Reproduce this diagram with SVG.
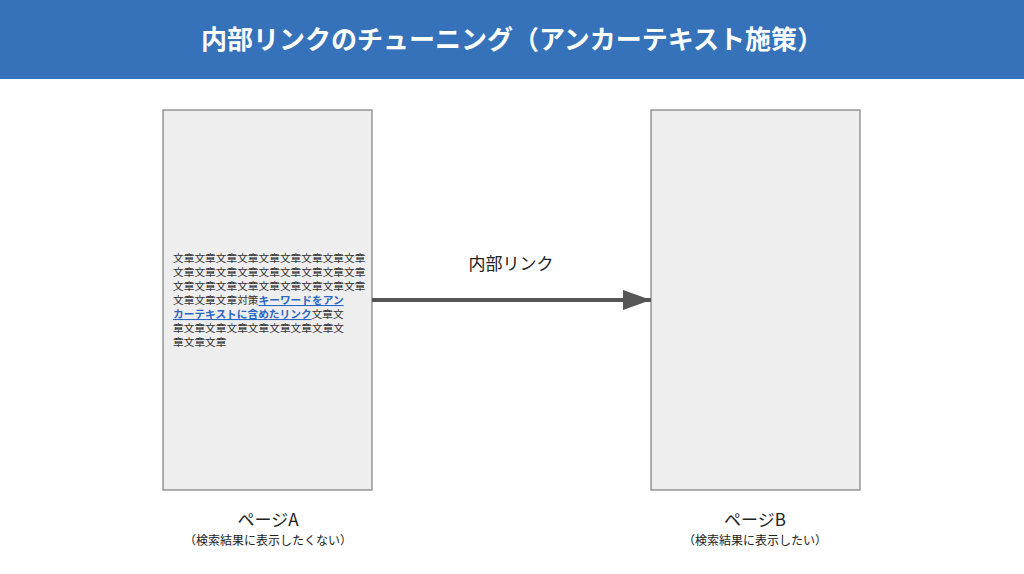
<svg xmlns="http://www.w3.org/2000/svg" width="1024" height="574" viewBox="0 0 1024 574">
<style>
.t{font-family:"Noto Sans CJK JP","Noto Sans",sans-serif}
.body{font-size:10.7px;fill:#333}
.lnk{fill:#2a66c4;font-weight:bold;text-decoration:underline}
.page{fill:#eeeeee;stroke:#666;stroke-width:1}
</style>
<defs><marker id="ah" markerWidth="30" markerHeight="20" refX="28" refY="10" orient="auto" markerUnits="userSpaceOnUse"><path d="M0,0 L28,10 L0,20 Z" fill="#555"/></marker></defs>
<rect width="1024" height="574" fill="#fff"/>
<g id="title"><rect x="0" y="0" width="1024" height="79" fill="#3572ba"/>
<text class="t" x="512" y="49" text-anchor="middle" font-size="26" font-weight="bold" fill="#fff">内部リンクのチューニング（アンカーテキスト施策）</text></g>
<g id="pageA"><rect class="page" x="163" y="110" width="209" height="380"/>
<text class="t body" x="173" y="262">文章文章文章文章文章文章文章文章文章</text>
<text class="t body" x="173" y="276">文章文章文章文章文章文章文章文章文章</text>
<text class="t body" x="173" y="290">文章文章文章文章文章文章文章文章文章</text>
<text class="t body" x="173" y="304">文章文章文章対策<tspan class="lnk">キーワードをアン</tspan></text>
<text class="t body" x="173" y="318"><tspan class="lnk">カーテキストに含めたリンク</tspan>文章文</text>
<text class="t body" x="173" y="332">章文章文章文章文章文章文章文章文</text>
<text class="t body" x="173" y="346">章文章文章</text>
<text class="t" x="268" y="526" text-anchor="middle" font-size="17" fill="#222">ページA</text>
<text class="t" x="268" y="545" text-anchor="middle" font-size="12" fill="#222">（検索結果に表示したくない）</text></g>
<g id="pageB"><rect class="page" x="651" y="110" width="209" height="380"/>
<text class="t" x="755" y="526" text-anchor="middle" font-size="17" fill="#222">ページB</text>
<text class="t" x="755" y="545" text-anchor="middle" font-size="12" fill="#222">（検索結果に表示したい）</text></g>
<g id="connectors"><line x1="372" y1="300" x2="651" y2="300" stroke="#555" stroke-width="4" marker-end="url(#ah)"/>
<text class="t" x="511" y="270" text-anchor="middle" font-size="17" fill="#222">内部リンク</text></g>
</svg>
